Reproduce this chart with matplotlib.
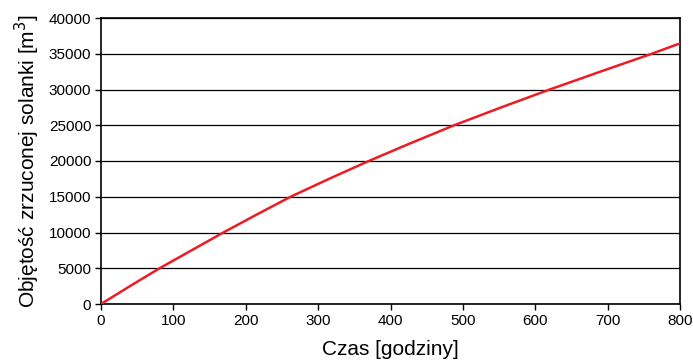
import matplotlib.pyplot as plt

plt.rcParams["font.family"] = ["Liberation Sans", "DejaVu Sans"]

# czas [h] i objętość [m3]
czas = [0, 40, 81, 125, 169, 215, 262, 315, 370, 428, 488, 553, 620, 690, 761, 800]
objetosc = [0, 2500, 5000, 7500, 10000, 12500, 15000, 17500, 20000, 22500,
            25000, 27500, 30000, 32500, 35000, 36450]

fig = plt.figure(figsize=(6.93, 3.6), dpi=100)
ax = fig.add_axes([101 / 693, 56 / 360, 579 / 693, 286 / 360])

ax.plot(czas, objetosc, color="#ed1c24", lw=1.8, zorder=3)

ax.set_xlim(0, 800)
ax.set_ylim(0, 40000)
ax.set_xticks(range(0, 801, 100))
ax.set_yticks(range(0, 40001, 5000))
ax.yaxis.grid(True, color="black", lw=0.9)
ax.set_axisbelow(True)

for s in ax.spines.values():
    s.set_linewidth(1.2)
ax.tick_params(direction="out", length=4, width=1, labelsize=11, pad=3)

ax.set_xlabel("Czas [godziny]", fontsize=15, labelpad=9)
ax.set_ylabel("Objętość zrzuconej solanki [m$^3$]", fontsize=15, labelpad=5)

fig.savefig("out.png", dpi=100)
